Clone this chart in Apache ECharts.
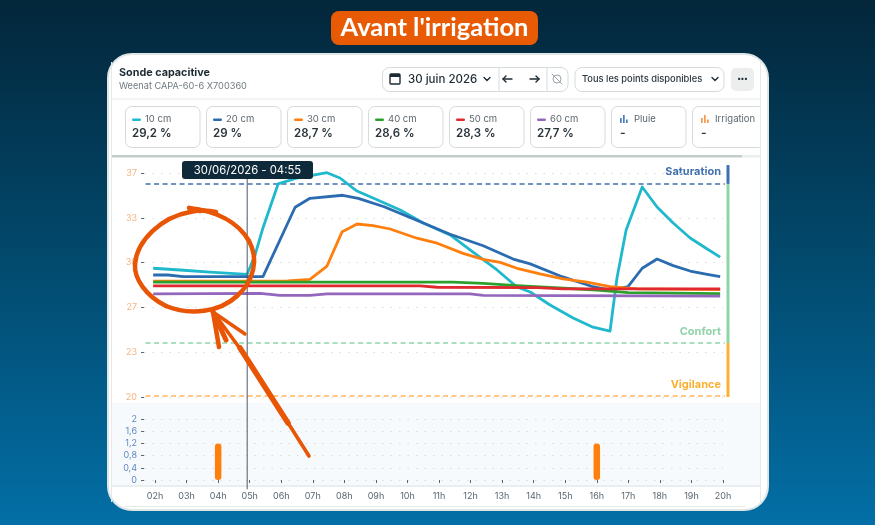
<!DOCTYPE html>
<html><head><meta charset="utf-8">
<style>html,body{margin:0;padding:0;background:#024a6e}#c{width:875px;height:525px}</style>
<script src="https://cdn.jsdelivr.net/npm/echarts@6/dist/echarts.min.js"></script>
</head><body><div id="c"></div>
<script>
const xTickHours=[2,3,4,5,6,7,8,9,10,11,12,13,14,15,16,17,18,19,20];
const moistureTicks=[20,23.4,26.8,30.2,33.6,37];
const moistureTickLabels=['20','23','27','30','33','37'];
const cm10=[[1.94,29.77],[2.79,29.64],[3.74,29.47],[4.92,29.31],[5.17,30.78],[5.42,32.83],[5.9,36.17],[6.5,36.62],[7.45,37.02],[7.86,36.62],[8.4,35.63],[8.91,35.1],[9.77,34.19],[10.5,33.2],[11.35,32.3],[12.08,31.0],[12.84,29.64],[13.47,28.35],[13.89,27.97],[14.52,26.98],[15.25,26.0],[15.88,25.3],[16.42,25.0],[16.64,29.03],[16.93,32.68],[17.44,35.94],[17.91,34.42],[18.42,33.2],[18.96,32.07],[19.5,31.23],[19.91,30.62]];
const cm20=[[1.94,29.26],[2.41,29.26],[2.89,29.13],[5.42,29.13],[6.44,34.4],[6.91,35.08],[7.95,35.31],[8.44,35.08],[9.26,34.44],[10.5,33.2],[11.35,32.35],[12.4,31.48],[13.35,30.47],[13.89,30.1],[14.9,29.13],[15.88,28.37],[16.42,28.12],[16.99,28.37],[17.44,29.77],[17.91,30.47],[18.42,29.97],[18.96,29.56],[19.5,29.31],[19.91,29.13]];
const cm30=[[1.94,28.8],[6.2,28.82],[6.91,28.93],[7.45,29.94],[7.93,32.55],[8.18,32.85],[8.4,33.13],[8.91,33.0],[9.45,32.75],[10.3,32.05],[10.94,31.67],[11.76,30.9],[12.4,30.45],[12.94,30.22],[13.47,29.77],[14.2,29.34],[14.93,28.96],[15.69,28.71],[16.42,28.37],[17.28,28.2],[19.91,28.15]];
const cm40=[[1.94,28.72],[11.45,28.72],[12.4,28.63],[13.47,28.45],[16,28.12],[17,27.92],[19.91,27.85]];
const cm50=[[1.94,28.43],[10.4,28.43],[10.94,28.33],[14.1,28.3],[14.93,28.2],[19.91,28.2]];
const cm60=[[1.94,27.82],[5.33,27.87],[5.96,27.72],[6.91,27.72],[7.45,27.82],[11.98,27.82],[12.4,27.72],[19.91,27.65]];
const irrigation=[[4,1.2],[16,1.2]];
const rain=[];
const thresholds={saturation:36.17,confort:24.1,vigilance:20.08};
const cursorHour=4.92;
const depthNames=['10 cm','20 cm','30 cm','40 cm','50 cm','60 cm'];
const depthValues=['29,2 %','29 %','28,7 %','28,6 %','28,3 %','27,7 %'];
const depthColors=['#1fb8cd','#2b6cb0','#ff7f0e','#2ca02c','#e0282e','#9467bd'];
const fontUI='Inter, "Noto Sans", sans-serif';

const g=[];
function rect(x,y,w,h,fill,r,stroke,z,lw){g.push({type:'rect',z:z||1,shape:{x,y,width:w,height:h,r:r||0},style:{fill:fill||'transparent',stroke:stroke||null,lineWidth:lw||1},silent:true});}
function txt(x,y,s,size,color,weight,align,font,z){g.push({type:'text',z:z||3,x,y,style:{text:s,fontSize:size,fill:color,fontWeight:weight||400,fontFamily:font||fontUI,align:align||'left',verticalAlign:'middle'},silent:true});}
function pl(points,color,lw,smooth,z){g.push({type:'polyline',z:z||3,shape:{points,smooth:smooth||0},style:{stroke:color,lineWidth:lw,fill:null,lineCap:'round',lineJoin:'round'},silent:true});}
function curve(x1,y1,cpx1,cpy1,cpx2,cpy2,x2,y2,color,lw,z){g.push({type:'bezierCurve',z:z,shape:{x1,y1,cpx1,cpy1,cpx2,cpy2,x2,y2},style:{stroke:color,lineWidth:lw,fill:null,lineCap:'round'},silent:true});}

// frame
rect(108,54,660,456,'#ffffff',24,'#dfe6e6',1,2);
rect(112,99,648,.01,null,0,'#f0f2f2',2,1);
rect(112,155,630,2.5,'#c3cdcc',0,null,2);
rect(742,155,18,2.5,'#eaeeee',0,null,2);
rect(112,403,648,84,'#f7fafc',0,null,1);
rect(112,486,648,.01,null,0,'#e6eaec',2,1);

// title pill
rect(331,11,207,34,'#e85a04',8,null,2);
txt(434.5,28,"Avant l'irrigation",25.5,'#ffffff',700,'center','Lato, sans-serif');

// header
txt(119,73,'Sonde capacitive',10.8,'#1d2a33',700);
txt(119,86.5,'Weenat CAPA-60-6 X700360',9.2,'#6f7a80');
rect(382.5,67.5,185.5,24,'#fff',7,'#d5dbdc',2);
rect(499,68,.01,23,null,0,'#e4e8e9',2,1);
rect(547,68,.01,23,null,0,'#e4e8e9',2,1);
rect(390,74,10,10,'#fff',1,'#1d2a33',3,1.4);
rect(390,74,10,3,'#1d2a33',0,null,3);
txt(408,79.5,'30 juin 2026',11.5,'#1d2a33',500);
pl([[484,77.5],[487,80.5],[490,77.5]],'#1d2a33',1.4);
pl([[503,79],[512,79]],'#1d2a33',1.4);pl([[506,76],[503,79],[506,82]],'#1d2a33',1.4);
pl([[530,79],[539,79]],'#1d2a33',1.4);pl([[536,76],[539,79],[536,82]],'#1d2a33',1.4);
g.push({type:'circle',z:3,shape:{cx:557,cy:79,r:4},style:{fill:null,stroke:'#9aa3a8',lineWidth:1},silent:true});
pl([[552,74],[562,84]],'#9aa3a8',1);
rect(575,67.5,149,24,'#fff',7,'#d5dbdc',2);
txt(582,79.5,'Tous les points disponibles',9.3,'#2b363e',500);
pl([[712,77.5],[715,80.5],[718,77.5]],'#1d2a33',1.4);
rect(731,68,23,23,'#eceeee',5,null,2);
txt(742.5,79,'•••',7,'#1d2a33',700,'center');

// cards
const cardX=[125,206,287,368,449,530];
depthNames.forEach((n,i)=>{
  const x=cardX[i];
  rect(x+.5,106.5,74.5,41,'#fff',6,'#d5dbdc',2);
  rect(x+7,118.5,9,2.6,depthColors[i],1.3,null,3);
  txt(x+20,119.5,n,9.5,'#5c666d');
  txt(x+7,133.5,depthValues[i],11.5,'#2a343b',600);
});
function barsIcon(x,color){
  [[0,5],[3,8],[6,3.5]].forEach(b=>rect(x+b[0],123-b[1],1.7,b[1],color,0,null,3));
}
rect(611.5,106.5,74.5,41,'#fff',6,'#d5dbdc',2);
barsIcon(620,'#4b7fc0');
txt(634,119.5,'Pluie',9.5,'#5c666d');
txt(620,133.5,'-',12,'#2a343b',600);
rect(692.5,106.5,72,41,'#fff',6,'#d5dbdc',2);
barsIcon(701,'#f59a4c');
txt(715,119.5,'Irrigation',9.5,'#5c666d');
txt(701,133.5,'-',12,'#2a343b',600);
rect(760,100,7,50,'#ffffff',0,null,4);
// inner frame rules
rect(111.5,62,.01,440,null,0,'#e4e9e9',4,1);
rect(760.5,62,.01,440,null,0,'#e4e9e9',4,1);
rect(125,506.5,620,.01,null,0,'#e4e9e9',4,1);

// threshold names
txt(721,172,'Saturation',11,'#3f6fae',700,'right');
txt(721,332,'Confort',11,'#8fd4a8',700,'right');
txt(721,385,'Vigilance',11,'#fbb034',700,'right');

// cursor label
rect(182,161,131,18,'#0e2a3a',3,null,20);
txt(247.5,170.5,'30/06/2026 - 04:55',11.3,'#ffffff',400,'center',fontUI,21);

// hand-drawn annotations
const A='#e85505';
curve(189,208,216,211,238,222,249,241,A,4.5,30);
curve(249,241,259,259,254,281,237,296,A,4.5,30);
curve(237,296,220,312,190,316,166,306,A,4.5,30);
curve(166,306,146,296,134,279,135,264,A,4.5,30);
curve(135,264,137,240,162,217,190,212,A,4.5,30);
curve(190,212,199,210,208,210,216,212,A,4.5,30);
pl([[189,207],[200,212]],A,3,0,30);
pl([[309,456],[247,358],[213,312]],A,3.6,0,30);
pl([[288,423],[240,348]],A,5.5,0,30);
pl([[213,312],[219,347]],A,4.5,0,30);
pl([[213,312],[245,334]],A,3.5,0,30);
pl([[213,312],[226,340]],A,5,0,30);

const dotted={show:true,lineStyle:{color:'#d9dddd',type:[1.5,7],width:1}};
const axisZ=5;
function line(name,data,color,z){return {name,type:'line',data,xAxisIndex:0,yAxisIndex:0,symbol:'none',clip:false,z:z,lineStyle:{color,width:2.8,join:'round'},itemStyle:{color}};}
function thr(v,color){return {type:'line',xAxisIndex:0,yAxisIndex:0,symbol:'none',clip:false,silent:true,z:6,data:[[1.7,v],[20.06,v]],lineStyle:{color,width:1.6,type:[5,3.5]}};}
function side(top,bottom,color){return {type:'line',xAxisIndex:2,yAxisIndex:2,symbol:'none',clip:false,silent:true,z:6,data:[[.5,top],[.5,bottom]],lineStyle:{color,width:3,cap:'butt'}};}

const chart=echarts.init(document.getElementById('c'));
chart.setOption({
  animation:false,
  backgroundColor:{type:'linear',x:0,y:0,x2:0,y2:1,colorStops:[{offset:0,color:'#03263a'},{offset:.5,color:'#024a6e'},{offset:1,color:'#036fa6'}]},
  graphic:{elements:g},
  grid:[{left:144,width:579,top:173,height:224},{left:144,width:579,top:419,height:61},{left:718,width:20,top:173,height:224}],
  xAxis:[
    {gridIndex:0,type:'value',min:1.65,max:20,show:false,splitLine:{show:false}},
    {gridIndex:1,type:'value',min:1.65,max:20,offset:6,z:axisZ,splitLine:{show:false},
     axisLine:{show:false},
     axisTick:{show:true,length:3,customValues:xTickHours,lineStyle:{color:'#5a6670'}},
     axisLabel:{customValues:xTickHours,margin:6,fontSize:9,color:'#5a6670',fontFamily:fontUI,
       formatter:v=>String(v).padStart(2,'0')+'h'}},
    {gridIndex:2,type:'value',min:0,max:1,show:false,splitLine:{show:false}}
  ],
  yAxis:[
    {gridIndex:0,type:'value',min:20,max:37,interval:3.4,z:axisZ,splitLine:dotted,axisLine:{show:false},
     axisTick:{show:true,length:3,lineStyle:{color:'#5a6670'}},
     axisLabel:{margin:7,fontSize:9,color:'#f7b27c',fontFamily:fontUI,
       formatter:v=>moistureTickLabels[moistureTicks.findIndex(t=>Math.abs(t-v)<.01)]}},
    {gridIndex:1,type:'value',min:0,max:2,interval:.4,z:axisZ,splitLine:dotted,axisLine:{show:false},
     axisTick:{show:true,length:3,lineStyle:{color:'#5a6670'}},
     axisLabel:{margin:7,fontSize:9,color:'#5f88c2',fontFamily:fontUI,formatter:v=>String(+v.toFixed(1)).replace('.',',')}},
    {gridIndex:2,type:'value',min:20,max:37,show:false,splitLine:{show:false}}
  ],
  series:[
    thr(thresholds.saturation,'#3e6fb0'),thr(thresholds.confort,'#8fd4a8'),thr(thresholds.vigilance,'#ffb45c'),
    side(37.6,thresholds.saturation,'#3e6fb0'),side(thresholds.saturation,thresholds.confort,'#8fd4a8'),side(thresholds.confort,20,'#fbb034'),
    line('10 cm',cm10,depthColors[0],7),line('20 cm',cm20,depthColors[1],8),line('30 cm',cm30,depthColors[2],9),
    line('40 cm',cm40,depthColors[3],10),line('50 cm',cm50,depthColors[4],11),line('60 cm',cm60,depthColors[5],12),
    {type:'line',xAxisIndex:0,yAxisIndex:0,symbol:'none',clip:false,silent:true,z:13,data:[[cursorHour,37.9],[cursorHour,13]],lineStyle:{color:'#4a5a66',width:1}},
    {name:'Pluie',type:'bar',xAxisIndex:1,yAxisIndex:1,data:rain,barWidth:6,barGap:'-100%',z:6,itemStyle:{color:'#4b7fc0'}},
    {name:'Irrigation',type:'bar',xAxisIndex:1,yAxisIndex:1,data:irrigation,barWidth:6.5,barGap:'-100%',z:6,itemStyle:{color:'#ff7f0e',borderRadius:3}}
  ]
});
</script></body></html>
